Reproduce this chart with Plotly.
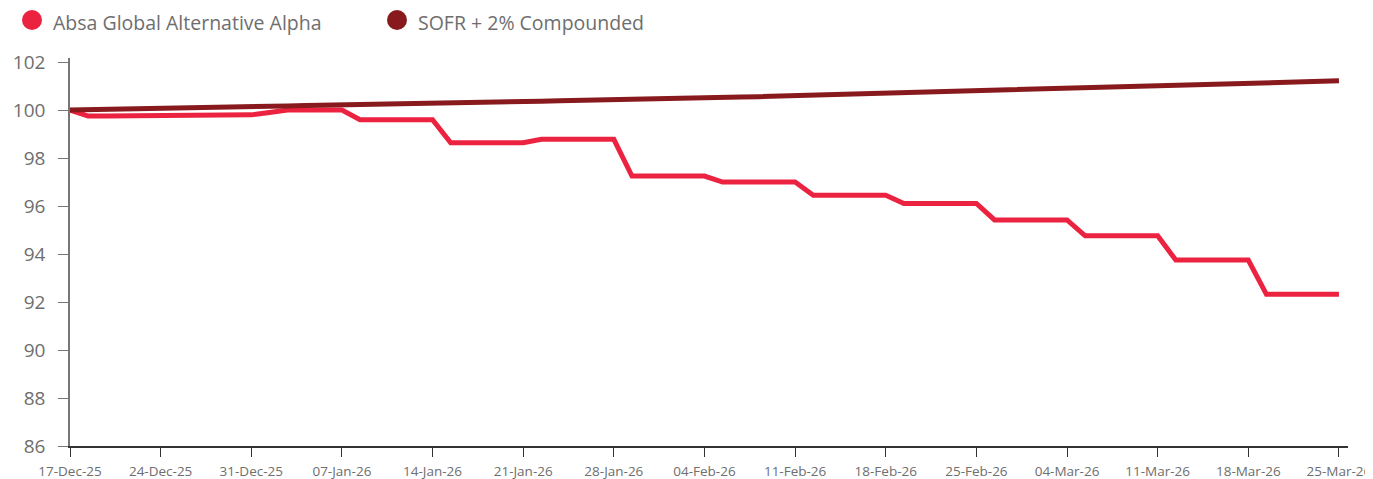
import pandas as pd
import plotly.graph_objects as go

# ---- data ----
start_date = "2025-12-17"
end_date = "2026-03-25"
dates = pd.bdate_range(start_date, end_date)
x_labels = [d.strftime("%d-%b-%y") for d in dates]

absa_alpha = [
    100.00, 99.75, 99.75, 99.75, 99.75, 99.75, 99.78, 99.80, 99.80, 99.80,
    99.80, 99.90, 100.00, 100.00, 100.00, 100.00, 99.60, 99.60, 99.60, 99.60,
    99.60, 98.64, 98.64, 98.64, 98.64, 98.64, 98.78, 98.78, 98.78, 98.78,
    98.78, 97.25, 97.25, 97.25, 97.25, 97.25, 97.00, 97.00, 97.00, 97.00,
    97.00, 96.45, 96.45, 96.45, 96.45, 96.45, 96.11, 96.11, 96.11, 96.11,
    96.11, 95.42, 95.42, 95.42, 95.42, 95.42, 94.76, 94.76, 94.76, 94.76,
    94.76, 93.75, 93.75, 93.75, 93.75, 93.75, 92.32, 92.32, 92.32, 92.32,
    92.32,
]

sofr_plus_2 = [
    100.00, 100.01, 100.03, 100.04, 100.06, 100.07, 100.09, 100.10, 100.11, 100.13,
    100.14, 100.16, 100.17, 100.19, 100.20, 100.21, 100.23, 100.24, 100.26, 100.27,
    100.29, 100.30, 100.31, 100.33, 100.34, 100.36, 100.37, 100.39, 100.40, 100.41,
    100.43, 100.44, 100.46, 100.47, 100.49, 100.50, 100.52, 100.54, 100.56, 100.58,
    100.60, 100.62, 100.64, 100.66, 100.68, 100.71, 100.73, 100.75, 100.77, 100.79,
    100.81, 100.83, 100.85, 100.87, 100.89, 100.91, 100.93, 100.95, 100.97, 100.99,
    101.01, 101.03, 101.05, 101.07, 101.10, 101.12, 101.14, 101.16, 101.18, 101.20,
    101.22,
]

series_names = ["Absa Global Alternative Alpha", "SOFR + 2% Compounded"]
series_colors = ["#EC2340", "#881A1D"]
y_ticks = [86, 88, 90, 92, 94, 96, 98, 100, 102]
x_tick_labels = x_labels[::5]

FONT = "Open Sans"
GRAY = "#6e6e6e"

fig = go.Figure()
for name, vals, col in zip(series_names, [absa_alpha, sofr_plus_2], series_colors):
    fig.add_trace(go.Scatter(
        x=x_labels, y=vals, mode="lines", name=name,
        line=dict(color=col, width=5), showlegend=False,
    ))

# manual legend (large circle markers)
legend_offsets = [0, 365]
for name, col, off in zip(series_names, series_colors, legend_offsets):
    fig.add_shape(
        type="circle", xref="paper", yref="paper",
        xsizemode="pixel", ysizemode="pixel",
        xanchor=0, yanchor=1,
        x0=-48 + off, x1=-28 + off, y0=28, y1=48,
        fillcolor=col, line=dict(width=0),
    )
    fig.add_annotation(
        text=name, xref="paper", yref="paper", x=0, y=1,
        xshift=-18 + off, yshift=50, xanchor="left", yanchor="top",
        borderpad=0,
        showarrow=False, font=dict(family=FONT, size=19.5, color=GRAY),
    )

# page has an 8px body margin: size/margins compensate for it
fig.update_layout(
    width=1365, height=471,
    margin=dict(l=62, r=25, t=50, b=33, autoexpand=False),
    paper_bgcolor="white", plot_bgcolor="white",
    font=dict(family=FONT, color=GRAY),
    showlegend=False,
)
fig.update_xaxes(
    type="category", automargin=False,
    range=[0, 70.5],
    tickmode="array", tickvals=x_tick_labels, ticktext=x_tick_labels,
    tickfont=dict(family=FONT, size=13.5, color=GRAY),
    ticks="outside", ticklen=9, tickcolor="#333333", tickwidth=1.3,
    showline=True, linecolor="#333333", linewidth=1.5,
    showgrid=False, zeroline=False,
    ticklabelstandoff=3,
)
fig.update_yaxes(
    automargin=False,
    range=[86, 102.17],
    tickmode="array", tickvals=y_ticks,
    tickfont=dict(family=FONT, size=19, color=GRAY),
    ticks="outside", ticklen=10, tickcolor="#777777", tickwidth=1.3,
    showline=True, linecolor="#777777", linewidth=1.5,
    showgrid=False, zeroline=False,
    ticklabelstandoff=9,
)

fig.write_html("out.html")
